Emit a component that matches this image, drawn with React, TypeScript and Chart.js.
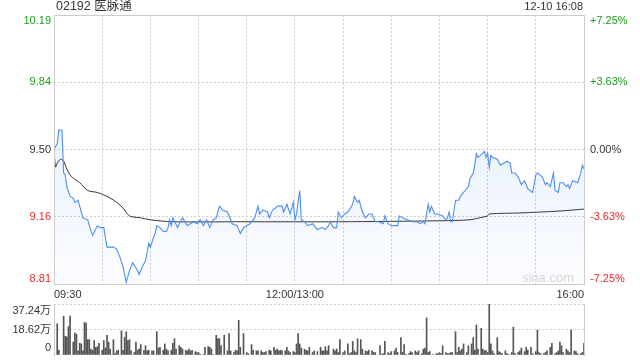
import React, { useEffect, useRef } from 'react';
import { Chart, registerables } from 'chart.js';

Chart.register(...registerables);

const FONT = "'Liberation Sans', Arial, 'Noto Sans CJK SC', sans-serif";

const stockTitle = '02192 医脉通';
const stampText = '12-10 16:08';
const watermark = 'sina.com';

// price axis (prev close 9.50, ±7.25%)
const priceMin = 8.81125;
const priceMax = 10.18875;
const priceTicks = [8.81125, 9.155625, 9.5, 9.844375, 10.18875];
const priceTickLabels = ['8.81', '9.16', '9.50', '9.84', '10.19'];
const pctTickLabels = ['-7.25%', '-3.63%', '0.00%', '+3.63%', '+7.25%'];
const tickColors = ['#f02828', '#f02828', '#333333', '#1a9e1a', '#1a9e1a'];

// time axis: minutes since 09:30 (lunch break removed)
const timeTicks = [0, 30, 60, 90, 120, 150, 180, 210, 240, 270, 300, 330];
const timeLabelAt = [0, 150, 330];
const timeLabelText = ['09:30', '12:00/13:00', '16:00'];

// price line
const priceMinutes = [
  0, 2, 3, 5, 6, 7, 8, 10, 12, 13, 15, 16, 18, 21, 22, 24, 27, 29, 31, 33, 35, 37, 39, 41, 43, 45, 46, 47, 49, 52,
  53, 55, 57, 59, 60, 62, 63, 64, 66, 68, 70, 71, 72, 73, 74, 77, 78, 80, 83, 85, 87, 89, 91, 93, 95, 97, 99, 101, 103, 105,
  108, 110, 111, 114, 116, 118, 120, 122, 124, 125, 127, 128, 130, 133, 134, 136, 138, 139, 142, 143, 145, 147, 149, 150, 151, 153, 154, 156, 158, 161,
  163, 164, 167, 169, 171, 172, 174, 176, 177, 179, 181, 183, 186, 187, 189, 190, 192, 194, 196, 198, 200, 202, 205, 206, 208, 210, 214, 215, 217, 220,
  223, 226, 228, 230, 231, 233, 234, 235, 237, 239, 242, 244, 245, 246, 247, 248, 250, 252, 253, 255, 256, 258, 259, 261, 262, 263, 264, 267, 268, 269,
  270, 271, 272, 273, 276, 278, 280, 282, 284, 285, 287, 289, 291, 293, 295, 298, 300, 301, 304, 306, 307, 309, 311, 312, 314, 315, 317, 319, 320, 321,
  323, 326, 328, 329, 330,
];
const priceValues = [
  9.50, 9.53, 9.60, 9.60, 9.38, 9.37, 9.31, 9.26, 9.25, 9.23, 9.24, 9.21, 9.15, 9.14, 9.11, 9.06, 9.11, 9.10, 9.10, 9.00, 9.00, 9.00, 8.99, 8.95, 8.90, 8.82, 8.85, 8.88, 8.92, 8.88,
  8.86, 8.90, 8.93, 9.02, 9.00, 9.05, 9.07, 9.11, 9.10, 9.08, 9.08, 9.10, 9.14, 9.11, 9.15, 9.10, 9.12, 9.15, 9.11, 9.12, 9.13, 9.12, 9.14, 9.11, 9.14, 9.10, 9.14, 9.15, 9.21, 9.19,
  9.18, 9.14, 9.12, 9.11, 9.07, 9.10, 9.11, 9.12, 9.14, 9.15, 9.21, 9.17, 9.19, 9.18, 9.15, 9.19, 9.20, 9.21, 9.21, 9.18, 9.22, 9.17, 9.23, 9.14, 9.17, 9.29, 9.14, 9.13, 9.11, 9.12,
  9.10, 9.09, 9.10, 9.09, 9.11, 9.13, 9.10, 9.10, 9.18, 9.15, 9.17, 9.18, 9.22, 9.26, 9.23, 9.24, 9.18, 9.15, 9.17, 9.17, 9.13, 9.13, 9.12, 9.16, 9.12, 9.11, 9.11, 9.16, 9.15, 9.14,
  9.13, 9.13, 9.12, 9.13, 9.12, 9.22, 9.18, 9.21, 9.17, 9.17, 9.16, 9.14, 9.15, 9.18, 9.13, 9.13, 9.24, 9.24, 9.26, 9.28, 9.29, 9.31, 9.35, 9.38, 9.42, 9.48, 9.46, 9.48, 9.49, 9.46,
  9.48, 9.41, 9.47, 9.46, 9.45, 9.42, 9.43, 9.44, 9.43, 9.38, 9.38, 9.36, 9.32, 9.34, 9.30, 9.28, 9.37, 9.38, 9.36, 9.32, 9.33, 9.31, 9.38, 9.29, 9.28, 9.33, 9.33, 9.31, 9.32, 9.30,
  9.34, 9.33, 9.38, 9.42, 9.40,
];

// average price line
const avgMinutes = [0, 1, 2, 4, 6, 8, 11, 16, 21, 27, 33, 39, 43, 47, 54, 60, 74, 116, 178, 240, 259, 265, 270, 271, 290, 315, 330];
const avgValues = [9.50, 9.41, 9.43, 9.45, 9.44, 9.40, 9.36, 9.33, 9.29, 9.28, 9.26, 9.23, 9.20, 9.16, 9.15, 9.14, 9.13, 9.13, 9.13, 9.135, 9.14, 9.15, 9.16, 9.17, 9.175, 9.185, 9.195];

// volume (万股)
const volMax = 37.24;
const volTicks = [0, 18.62, 37.24];
const volTickLabels = ['0', '18.62万', '37.24万'];
const volMinutes = [
  2, 3, 6, 7, 8, 9, 10, 12, 13, 14, 15, 16, 17, 18, 19, 20, 21, 22, 23, 24, 25, 26, 27, 28, 30, 31, 32, 33, 34, 35,
  37, 38, 39, 40, 42, 43, 44, 45, 46, 47, 48, 50, 51, 52, 53, 54, 56, 57, 58, 59, 61, 62, 64, 65, 66, 68, 69, 70, 71, 73,
  74, 75, 76, 78, 79, 80, 82, 83, 84, 85, 86, 88, 89, 90, 91, 93, 94, 96, 97, 98, 99, 101, 102, 103, 104, 106, 108, 109, 110, 112,
  113, 114, 115, 116, 118, 120, 121, 123, 124, 126, 127, 129, 130, 131, 132, 134, 135, 137, 138, 139, 140, 141, 142, 144, 145, 146, 147, 149, 150, 151,
  152, 153, 154, 156, 157, 158, 159, 161, 162, 164, 166, 167, 168, 169, 170, 171, 174, 175, 176, 177, 178, 180, 181, 183, 184, 185, 186, 187, 188, 189,
  191, 192, 193, 194, 195, 196, 198, 199, 200, 203, 204, 205, 206, 208, 209, 210, 212, 213, 214, 216, 217, 218, 219, 221, 222, 223, 225, 226, 227, 229,
  230, 231, 232, 233, 234, 236, 238, 239, 240, 241, 242, 244, 245, 246, 247, 248, 250, 251, 252, 253, 254, 255, 257, 258, 260, 261, 262, 263, 264, 266,
  267, 268, 269, 270, 271, 272, 273, 274, 276, 277, 278, 279, 281, 282, 283, 285, 286, 287, 289, 290, 291, 293, 294, 295, 297, 298, 300, 301, 302, 303,
  305, 306, 307, 309, 310, 312, 313, 314, 315, 316, 317, 319, 320, 321, 322, 324, 325, 326, 328, 329, 330,
];
const volValues = [
  22.8, 3.5, 28.4, 13.7, 13.2, 20.8, 28.4, 9.4, 16.2, 15.2, 3.0, 8.6, 8.1, 3.0, 23.8, 23.3, 11.2, 11.2, 4.3, 3.5, 10.6, 5.6, 6.1, 8.6, 3.5, 10.6, 5.1, 14.4, 9.4, 4.3,
  11.2, 1.0, 3.0, 3.5, 17.7, 3.5, 12.7, 17.0, 10.6, 11.2, 3.0, 1.8, 9.4, 3.5, 4.3, 7.6, 3.5, 6.8, 3.0, 3.5, 3.0, 3.0, 17.0, 5.1, 5.6, 3.5, 8.1, 4.3, 3.0, 3.5,
  8.6, 11.9, 4.3, 6.8, 5.6, 4.3, 3.5, 3.0, 4.3, 3.0, 3.5, 2.5, 1.8, 1.8, 0.5, 0.5, 5.6, 6.1, 5.6, 4.3, 0.5, 14.4, 11.9, 11.9, 6.8, 14.4, 3.0, 15.7, 3.0, 1.8,
  3.5, 3.0, 25.3, 5.6, 15.7, 1.8, 1.0, 7.6, 3.5, 3.0, 3.0, 3.0, 1.8, 1.8, 2.5, 3.5, 3.0, 5.6, 3.5, 4.3, 3.0, 3.5, 3.0, 3.0, 5.6, 3.0, 1.8, 2.5, 1.8, 8.1,
  15.7, 8.1, 5.1, 4.3, 3.5, 3.0, 5.6, 1.8, 3.0, 2.5, 5.6, 3.0, 3.0, 6.1, 3.0, 6.8, 4.3, 3.0, 4.3, 1.8, 11.2, 1.8, 3.0, 8.1, 1.0, 1.8, 9.9, 3.0, 1.8, 11.9,
  11.2, 4.3, 0.5, 3.0, 2.5, 3.5, 3.0, 1.8, 1.8, 6.8, 0.5, 1.0, 9.9, 1.8, 1.0, 2.5, 3.0, 5.1, 1.8, 12.7, 1.8, 7.6, 0.5, 1.0, 2.5, 1.8, 3.0, 1.8, 3.0, 1.0,
  4.3, 5.1, 27.1, 1.8, 2.5, 0.5, 1.0, 1.0, 1.8, 1.0, 6.8, 1.8, 1.0, 1.0, 1.8, 1.8, 17.0, 1.8, 5.6, 3.0, 4.3, 8.1, 1.8, 6.8, 8.1, 12.7, 3.5, 22.0, 4.3, 19.5,
  4.3, 3.0, 3.5, 1.8, 37.24, 8.1, 3.0, 1.0, 12.7, 2.5, 1.8, 1.0, 3.0, 1.0, 0.5, 1.8, 20.3, 1.0, 1.8, 3.0, 5.1, 2.5, 5.6, 3.5, 5.6, 1.0, 2.5, 18.2, 1.8, 1.0,
  1.0, 1.8, 3.0, 5.6, 8.6, 1.0, 1.8, 3.0, 9.4, 6.8, 1.8, 4.3, 3.0, 1.8, 18.2, 3.0, 2.5, 1.0, 1.0, 1.8, 8.6,
];

const GRID = '#cfcfcf';
const FRAME = '#cccccc';

const framePlugin = {
  id: 'frame',
  afterDatasetsDraw(chart: any) {
    const { ctx, chartArea: a } = chart;
    ctx.save();
    ctx.strokeStyle = FRAME;
    ctx.lineWidth = 1;
    ctx.strokeRect(a.left + 0.5, a.top + 0.5, a.right - a.left, a.bottom - a.top);
    ctx.restore();
  },
  afterDraw(chart: any) {
    const { ctx, chartArea: a } = chart;
    ctx.save();
    ctx.fillStyle = '#333';
    ctx.textBaseline = 'middle';
    ctx.font = `12.5px ${FONT}`;
    ctx.textAlign = 'left';
    ctx.fillText(stockTitle, a.left + 2, 7);
    ctx.font = `11px ${FONT}`;
    ctx.textAlign = 'right';
    ctx.fillText(stampText, a.right - 1, 7);
    ctx.fillStyle = '#d4d4d4';
    ctx.font = `13px ${FONT}`;
    ctx.textAlign = 'right';
    ctx.fillText(watermark, a.right - 10, a.bottom - 6);
    ctx.restore();
  },
};

const volFramePlugin = {
  id: 'volFrame',
  afterDatasetsDraw(chart: any) {
    const { ctx, chartArea: a } = chart;
    ctx.save();
    ctx.strokeStyle = FRAME;
    ctx.lineWidth = 1;
    ctx.beginPath();
    ctx.moveTo(a.left + 0.5, a.top);
    ctx.lineTo(a.left + 0.5, a.bottom + 1);
    ctx.moveTo(a.right + 0.5, a.top);
    ctx.lineTo(a.right + 0.5, a.bottom + 1);
    ctx.stroke();
    ctx.restore();
  },
};

function edgeLabel(text: string, i: number, n: number): string | string[] {
  if (i === 0) return [text, ''];
  if (i === n - 1) return ['', text];
  return text;
}

function fixWidth(w: number) {
  return (s: any) => {
    s.width = w;
    s.paddingTop = 0;
    s.paddingBottom = 0;
  };
}

export default function App() {
  const mainRef = useRef<HTMLCanvasElement>(null);
  const volRef = useRef<HTMLCanvasElement>(null);

  useEffect(() => {
    Chart.defaults.font.family = FONT;
    const priceData = priceMinutes.map((m, i) => ({ x: m, y: priceValues[i] }));
    const avgData = avgMinutes.map((m, i) => ({ x: m, y: avgValues[i] }));

    const main = new Chart(mainRef.current as HTMLCanvasElement, {
      type: 'line',
      data: {
        datasets: [
          {
            data: priceData,
            borderColor: '#4f8ef0',
            borderWidth: 1.1,
            pointRadius: 0,
            tension: 0,
            fill: 'start',
            backgroundColor: (c: any) => {
              const { chart } = c;
              const a = chart.chartArea;
              if (!a) return 'rgba(79,142,240,0.1)';
              const g = chart.ctx.createLinearGradient(0, a.top, 0, a.bottom);
              g.addColorStop(0, 'rgba(79,142,240,0.20)');
              g.addColorStop(1, 'rgba(79,142,240,0.02)');
              return g;
            },
          },
          {
            data: avgData,
            borderColor: '#333333',
            borderWidth: 1,
            pointRadius: 0,
            tension: 0.3,
            fill: false,
          },
        ],
      },
      options: {
        responsive: false,
        animation: false,
        events: [],
        layout: { padding: { top: 15, left: 0, right: 0, bottom: 0 } },
        plugins: { legend: { display: false }, tooltip: { enabled: false }, title: { display: false } },
        scales: {
          x: {
            type: 'linear',
            min: 0,
            max: 330,
            afterBuildTicks: (s: any) => { s.ticks = timeTicks.map((v) => ({ value: v })); },
            afterFit: (s: any) => { s.height = 16; },
            ticks: {
              autoSkip: false,
              maxRotation: 0,
              align: 'inner',
              padding: 4,
              color: '#333',
              font: { size: 11 },
              callback: (v: any) => {
                const k = timeLabelAt.indexOf(Number(v));
                return k >= 0 ? timeLabelText[k] : '';
              },
            },
            grid: {
              drawTicks: false,
              color: (c: any) => (c.index === 0 || c.index === timeTicks.length - 1 ? 'rgba(0,0,0,0)' : GRID),
            },
            border: { display: false, dash: [2, 2] },
          },
          y: {
            position: 'left',
            min: priceMin,
            max: priceMax,
            afterBuildTicks: (s: any) => { s.ticks = priceTicks.map((v) => ({ value: v })); },
            afterFit: fixWidth(54),
            ticks: {
              autoSkip: false,
              padding: 3,
              font: { size: 11, lineHeight: 1 },
              color: (c: any) => tickColors[c.index],
              callback: (_v: any, i: number) => edgeLabel(priceTickLabels[i], i, priceTicks.length),
            },
            grid: {
              drawTicks: false,
              color: (c: any) => (c.index === 0 || c.index === priceTicks.length - 1 ? 'rgba(0,0,0,0)' : GRID),
            },
            border: { display: false, dash: [2, 2] },
          },
          y2: {
            position: 'right',
            min: priceMin,
            max: priceMax,
            afterBuildTicks: (s: any) => { s.ticks = priceTicks.map((v) => ({ value: v })); },
            afterFit: fixWidth(56),
            ticks: {
              autoSkip: false,
              padding: 6,
              font: { size: 11, lineHeight: 1 },
              color: (c: any) => tickColors[c.index],
              callback: (_v: any, i: number) => edgeLabel(pctTickLabels[i], i, priceTicks.length),
            },
            grid: { display: false, drawTicks: false },
            border: { display: false },
          },
        },
      },
      plugins: [framePlugin],
    } as any);

    const volData = volMinutes.map((m, i) => ({ x: m, y: volValues[i] }));
    const vol = new Chart(volRef.current as HTMLCanvasElement, {
      type: 'bar',
      data: {
        datasets: [
          {
            data: volData,
            backgroundColor: '#555555',
            borderWidth: 0,
            barThickness: 1,
          },
        ],
      },
      options: {
        responsive: false,
        animation: false,
        events: [],
        layout: { padding: { top: 4, left: 0, right: 0, bottom: 5 } },
        plugins: { legend: { display: false }, tooltip: { enabled: false } },
        scales: {
          x: {
            type: 'linear',
            min: 0,
            max: 330,
            offset: false,
            display: false,
            grid: { offset: false },
          },
          y: {
            position: 'left',
            min: 0,
            max: volMax,
            afterBuildTicks: (s: any) => { s.ticks = volTicks.map((v) => ({ value: v })); },
            afterFit: fixWidth(54),
            ticks: {
              autoSkip: false,
              padding: 3,
              color: '#333',
              font: { size: 11, lineHeight: 1.25 },
              callback: (_v: any, i: number) => edgeLabel(volTickLabels[i], i, volTicks.length),
            },
            grid: {
              drawTicks: false,
              color: (c: any) => (c.index === 0 ? 'rgba(0,0,0,0)' : GRID),
            },
            border: { display: false, dash: [2, 2] },
          },
          yr: {
            position: 'right',
            min: 0,
            max: volMax,
            afterFit: fixWidth(56),
            ticks: { display: false },
            grid: { display: false, drawTicks: false },
            border: { display: false },
          },
        },
      },
      plugins: [volFramePlugin],
    } as any);

    return () => {
      main.destroy();
      vol.destroy();
    };
  }, []);

  return (
    <div style={{ position: 'fixed', left: 0, top: 0, width: 640, height: 360, background: '#fff' }}>
      <canvas ref={mainRef} width={640} height={300} style={{ position: 'absolute', left: 0, top: 0 }} />
      <canvas ref={volRef} width={640} height={60} style={{ position: 'absolute', left: 0, top: 300 }} />
    </div>
  );
}
